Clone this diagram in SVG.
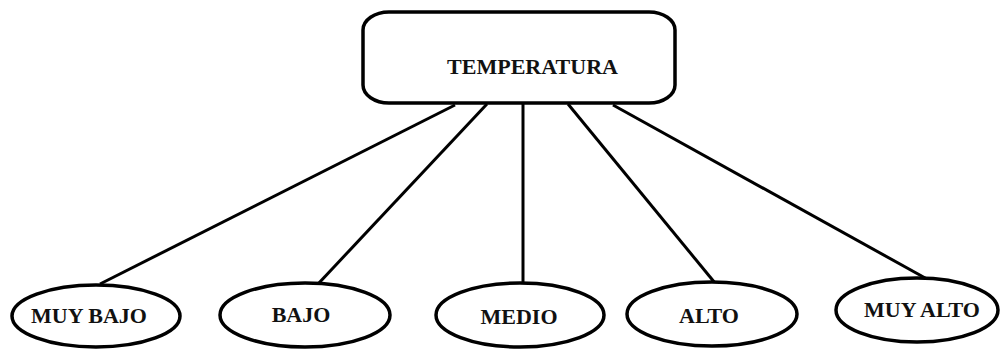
<svg xmlns="http://www.w3.org/2000/svg" width="1001" height="349" viewBox="0 0 1001 349">
<style>
.shape{fill:#fff;stroke:#000;stroke-width:3.5}
.edge{stroke:#000;stroke-width:3;fill:none}
.lbl{font-family:"Liberation Serif","Times New Roman",serif;font-weight:bold;font-size:22px;fill:#111;text-anchor:middle}
</style>
<rect width="1001" height="349" fill="#fff"/>
<g id="connectors">
<line class="edge" x1="455" y1="105" x2="100" y2="284"/>
<line class="edge" x1="487" y1="104" x2="318" y2="284"/>
<line class="edge" x1="523" y1="103" x2="523" y2="284"/>
<line class="edge" x1="568" y1="104" x2="715" y2="283"/>
<line class="edge" x1="613" y1="105" x2="927" y2="279"/>
</g>
<g id="temperatura">
<rect class="shape" x="363" y="12" width="312" height="91" rx="26" ry="18"/>
<text class="lbl" x="532.5" y="74" textLength="171" lengthAdjust="spacingAndGlyphs">TEMPERATURA</text>
</g>
<g id="muy-bajo">
<ellipse class="shape" cx="96" cy="316" rx="84" ry="31"/>
<text class="lbl" x="89" y="323">MUY BAJO</text>
</g>
<g id="bajo">
<ellipse class="shape" cx="305" cy="315" rx="85" ry="32"/>
<text class="lbl" x="301" y="322">BAJO</text>
</g>
<g id="medio">
<ellipse class="shape" cx="520" cy="315" rx="84" ry="32"/>
<text class="lbl" x="519" y="324">MEDIO</text>
</g>
<g id="alto">
<ellipse class="shape" cx="712" cy="314" rx="85" ry="32"/>
<text class="lbl" x="709" y="323">ALTO</text>
</g>
<g id="muy-alto">
<ellipse class="shape" cx="917" cy="310" rx="81" ry="32"/>
<text class="lbl" x="922" y="317">MUY ALTO</text>
</g>
</svg>
